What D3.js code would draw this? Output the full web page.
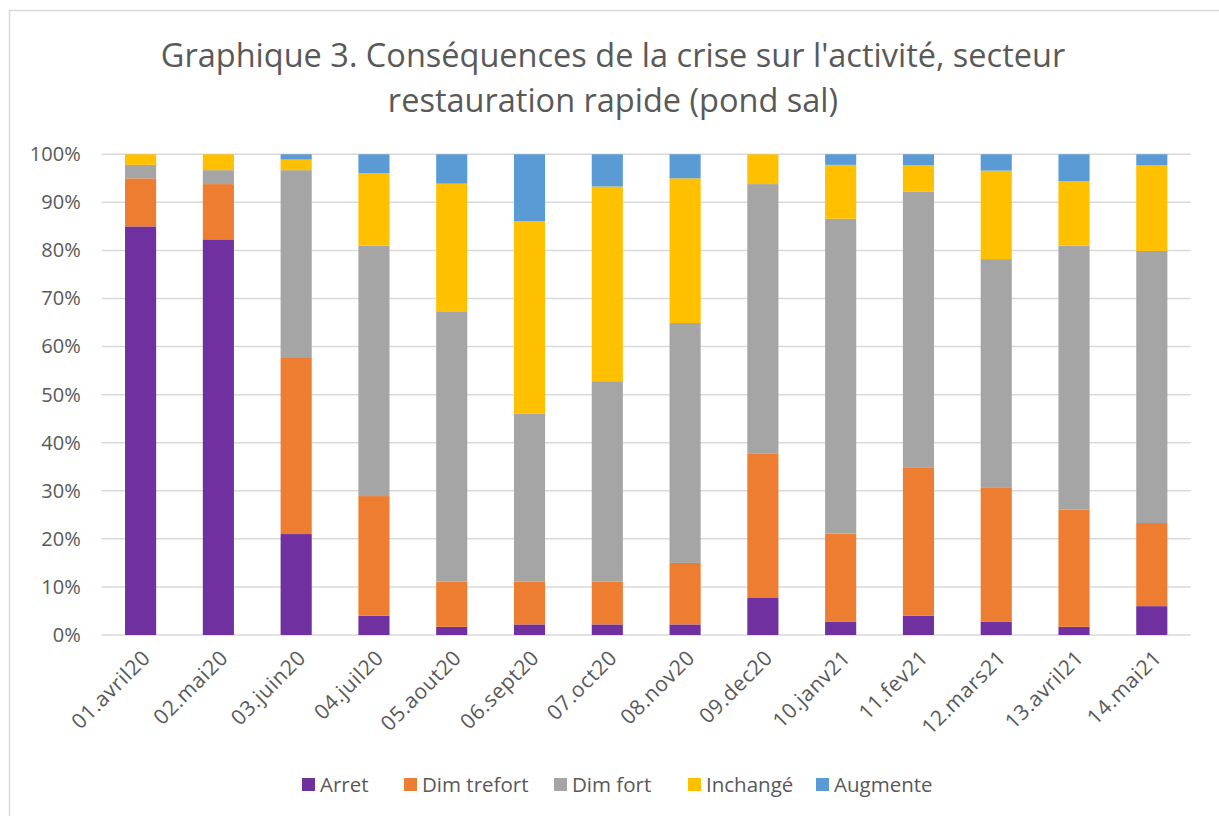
<!DOCTYPE html>
<html>
<head>
<meta charset="utf-8">
<script src="https://cdn.jsdelivr.net/npm/d3@7"></script>
<style>
    body { margin: 0; background: #fff; }
    text { font-family: "Open Sans", "Noto Sans", sans-serif; fill: #595959; }
    .grid line { stroke: #d9d9d9; stroke-width: 1.5; }
    .axis path, .axis line { display: none; }
</style>
</head>
<body>
<div id="graph"></div>
<script>
/*global d3*/

// categories (enquêtes)
var vagues = ["01.avril20", "02.mai20", "03.juin20", "04.juil20", "05.aout20", "06.sept20", "07.oct20",
    "08.nov20", "09.dec20", "10.janv21", "11.fev21", "12.mars21", "13.avril21", "14.mai21"];

// series, en %
var arret = [85.0, 82.3, 21.0, 4.0, 1.7, 2.2, 2.2, 2.2, 7.7, 2.8, 4.0, 2.8, 1.7, 6.0];
var dimTrefort = [10.0, 11.5, 36.8, 24.9, 9.4, 8.9, 8.9, 12.8, 30.1, 18.3, 30.9, 27.8, 24.4, 17.3];
var dimFort = [2.8, 2.9, 38.9, 52.1, 56.1, 35.0, 41.7, 49.9, 56.0, 65.5, 57.3, 47.6, 54.9, 56.6];
var inchange = [2.2, 3.3, 2.2, 15.1, 26.7, 40.0, 40.5, 30.1, 6.2, 11.2, 5.5, 18.4, 13.4, 17.8];
var augmente = [0.0, 0.0, 1.1, 3.9, 6.1, 13.9, 6.7, 5.0, 0.0, 2.2, 2.3, 3.4, 5.6, 2.3];

var yTicks = [0, 10, 20, 30, 40, 50, 60, 70, 80, 90, 100];

(function () {
    "use strict";
    var series = [
            {nom: "Arret", valeurs: arret, couleur: "#7030a0"},
            {nom: "Dim trefort", valeurs: dimTrefort, couleur: "#ed7d31"},
            {nom: "Dim fort", valeurs: dimFort, couleur: "#a5a5a5"},
            {nom: "Inchangé", valeurs: inchange, couleur: "#ffc000"},
            {nom: "Augmente", valeurs: augmente, couleur: "#5b9bd5"}
        ],
        table = vagues.map(function (v, i) {
            var row = {vague: v};
            series.forEach(function (s) { row[s.nom] = s.valeurs[i]; });
            return row;
        }),
        widthGlobal = 1219,
        heightGlobal = 816,
        margin = {top: 154.3, right: 28.3, bottom: 181, left: 101.7},
        width = widthGlobal - margin.left - margin.right,
        height = heightGlobal - margin.top - margin.bottom,

        x = d3.scaleBand()
            .domain(vagues)
            .range([0, width])
            .paddingInner(0.6)
            .paddingOuter(0.3),

        y = d3.scaleLinear()
            .domain([0, 100])
            .range([height, 0]),

        stack = d3.stack().keys(series.map(function (s) { return s.nom; })),

        svg = d3.select("#graph").append("svg")
            .attr("width", widthGlobal)
            .attr("height", heightGlobal),

        chart = svg.append("g")
            .attr("transform", "translate(" + margin.left + "," + margin.top + ")");

    // cadre du graphique
    svg.append("rect")
        .attr("x", 9.5)
        .attr("y", 10.5)
        .attr("width", widthGlobal + 20)
        .attr("height", heightGlobal + 20)
        .attr("fill", "none")
        .attr("stroke", "#d9d9d9")
        .attr("stroke-width", 1.5);

    // titre
    svg.append("text")
        .attr("x", 613)
        .attr("text-anchor", "middle")
        .style("font-size", "32.5px")
        .selectAll("tspan")
        .data(["Graphique 3. Conséquences de la crise sur l'activité, secteur", "restauration rapide (pond sal)"])
        .enter().append("tspan")
        .attr("x", 613)
        .attr("y", function (d, i) { return 67 + i * 45; })
        .text(function (d) { return d; });

    // grille horizontale
    chart.append("g")
        .attr("class", "grid")
        .selectAll("line")
        .data(yTicks)
        .enter().append("line")
        .attr("x1", 0)
        .attr("x2", width)
        .attr("y1", function (d) { return y(d); })
        .attr("y2", function (d) { return y(d); });

    // barres empilées
    chart.append("g").selectAll("g")
        .data(stack(table))
        .enter().append("g")
        .attr("fill", function (d, i) { return series[i].couleur; })
        .selectAll("rect")
        .data(function (d) { return d; })
        .enter().append("rect")
        .attr("x", function (d) { return x(d.data.vague); })
        .attr("width", x.bandwidth())
        .attr("y", function (d) { return y(d[1]); })
        .attr("height", function (d) { return y(d[0]) - y(d[1]); });

    // axe y
    chart.append("g")
        .attr("class", "y axis")
        .call(d3.axisLeft(y).tickValues(yTicks).tickSize(0).tickPadding(21)
            .tickFormat(function (d) { return d + "%"; }))
        .selectAll("text")
        .style("font-size", "20px");

    // axe x, étiquettes à 45°
    chart.append("g")
        .attr("class", "x axis")
        .attr("transform", "translate(0," + height + ")")
        .call(d3.axisBottom(x).tickSize(0))
        .selectAll("text")
        .style("font-size", "21px")
        .style("letter-spacing", "0.6px")
        .attr("text-anchor", "end")
        .attr("dy", null)
        .attr("y", 0)
        .attr("transform", "translate(11,24) rotate(-45)");

    // légende
    var legende = svg.append("g")
        .attr("transform", "translate(0,785)"),
        posLegende = [302, 404, 554, 688, 816];

    legende.selectAll("rect")
        .data(series)
        .enter().append("rect")
        .attr("x", function (d, i) { return posLegende[i]; })
        .attr("y", -7)
        .attr("width", 13)
        .attr("height", 13)
        .attr("fill", function (d) { return d.couleur; });

    legende.selectAll("text")
        .data(series)
        .enter().append("text")
        .attr("x", function (d, i) { return posLegende[i] + 18; })
        .attr("y", 0)
        .attr("dy", "0.35em")
        .style("font-size", "20.5px")
        .text(function (d) { return d.nom; });
}());
</script>
</body>
</html>
